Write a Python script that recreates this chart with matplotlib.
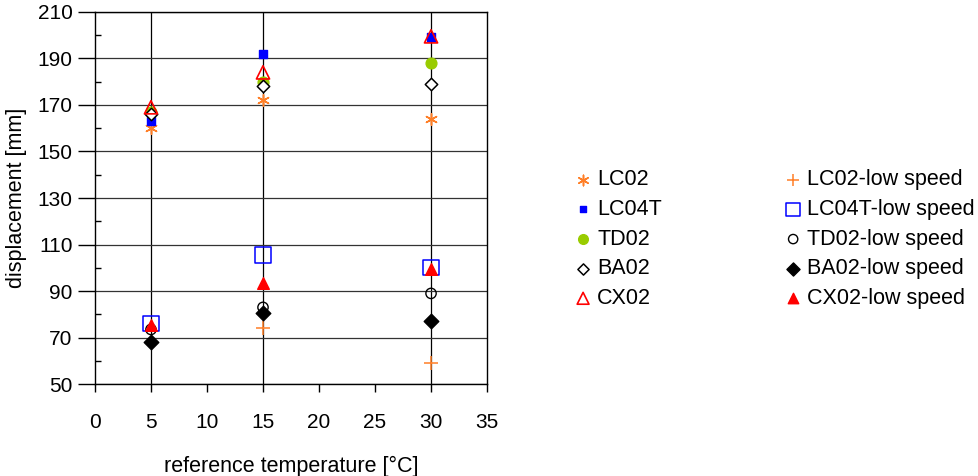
import numpy as np
import matplotlib
matplotlib.use("Agg")
import matplotlib.pyplot as plt

plt.rcParams['font.family'] = ['Liberation Sans', 'DejaVu Sans']

temps = [5, 15, 30]

# normal speed
lc02 = [160, 172, 164]
lc04t = [163, 192, 199]
td02 = [167, 180, 188]
ba02 = [166, 178, 179]
cx02 = [169, 184, 199.5]

# low speed
lc02_low = [np.nan, 74, 59]
lc04t_low = [76, 105.5, 100]
td02_low = [73.5, 83, 89]
ba02_low = [68, 80.5, 77]
cx02_low = [75.5, 93.5, 99.5]

orange = '#FF7F27'

fig = plt.figure(figsize=(9.79, 4.76), dpi=100)
ax = fig.add_axes([0.097, 0.193, 0.4005, 0.782])

for t in temps:
    ax.axvline(t, color='black', lw=0.9, zorder=1)
ax.grid(axis='y', which='major', color='#333333', lw=0.9, zorder=1)

series = [
    (lc02, 'LC02', dict(marker=(6, 2, 0), s=70, color=orange, linewidths=1.1)),
    (lc04t, 'LC04T', dict(marker='s', s=30, color='#0000FF')),
    (td02, 'TD02', dict(marker='o', s=60, color='#99CC00')),
    (ba02, 'BA02', dict(marker='D', s=40, facecolors='white', edgecolors='black', linewidths=1.1)),
    (cx02, 'CX02', dict(marker='^', s=90, facecolors='none', edgecolors='red', linewidths=1.2)),
    (lc02_low, 'LC02-low speed', dict(marker='+', s=90, color=orange, linewidths=1.1)),
    (lc04t_low, 'LC04T-low speed', dict(marker='s', s=120, facecolors='none', edgecolors='#0000FF', linewidths=1.1)),
    (td02_low, 'TD02-low speed', dict(marker='o', s=55, facecolors='none', edgecolors='black', linewidths=1.0)),
    (ba02_low, 'BA02-low speed', dict(marker='D', s=55, color='black')),
    (cx02_low, 'CX02-low speed', dict(marker='^', s=70, color='red')),
]

for vals, name, kw in series:
    ax.scatter(temps, vals, label=name, zorder=3, **kw)

ax.set_xlim(0, 35)
ax.set_ylim(50, 210)
ax.set_xticks(range(0, 36, 5))
ax.set_yticks(range(50, 211, 20))
ax.set_yticks(range(60, 201, 20), minor=True)
ax.tick_params(axis='both', which='major', direction='out', width=1,
               labelsize=15, colors='black')
ax.tick_params(axis='x', which='major', length=6, pad=15)
ax.tick_params(axis='y', which='major', length=12, pad=4)
ax.tick_params(axis='y', which='minor', direction='in', length=4, width=1)
for sp in ax.spines.values():
    sp.set_linewidth(1)
    sp.set_color('black')

ax.set_xlabel('reference temperature [°C]', fontsize=15.5, labelpad=17)
ax.set_ylabel('displacement [mm]', fontsize=15.5, labelpad=8)

leg = fig.legend(loc='upper left', bbox_to_anchor=(0.578, 0.662), ncol=2,
                 frameon=False, fontsize=15.5, handlelength=0.8, handletextpad=0.25,
                 columnspacing=5.7, labelspacing=0.4, scatterpoints=1,
                 borderaxespad=0, markerscale=0.9)

fig.savefig('out.png', dpi=100)
